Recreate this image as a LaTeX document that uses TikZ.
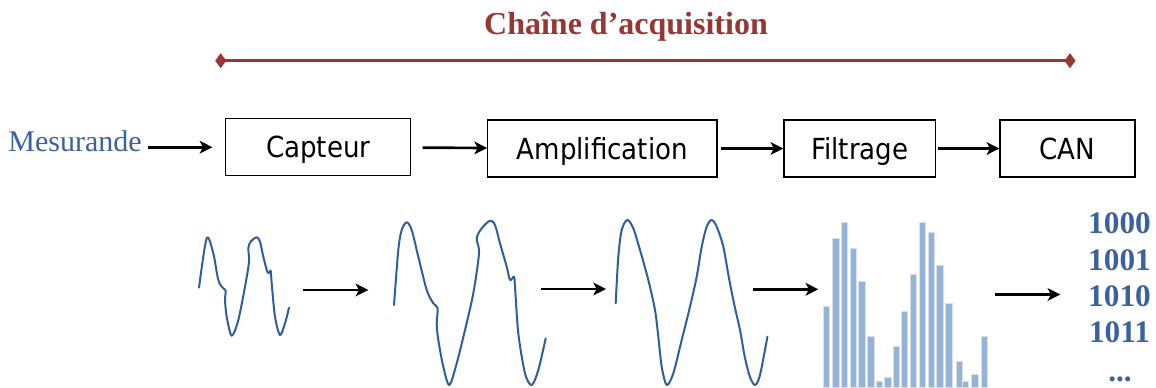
\documentclass[tikz,border=0pt]{standalone}
\usepackage{fontspec}
\setmainfont{Liberation Serif}
\newfontfamily\blocfont{DejaVu Sans Condensed}
\usetikzlibrary{arrows.meta}
\definecolor{caRouge}{HTML}{953735}
\definecolor{caBleu}{HTML}{3A62A0}
\definecolor{caOnde}{HTML}{2F5E9C}
\definecolor{caBarre}{HTML}{95B3D7}
\tikzset{
  bloc/.style   ={draw=black,line width=1pt,minimum height=42.75pt,inner sep=0pt,
                  font=\blocfont\fontsize{21.75}{26}\selectfont,
                  text height=15.9pt,text depth=0pt},
  flow/.style   ={-{Stealth[length=9.5pt,width=9.5pt,inset=2.5pt]},black,line width=2pt},
  portee/.style ={{Diamond[length=8.25pt,width=11.25pt]}-{Diamond[length=8.25pt,width=11.25pt]},
                  caRouge,line width=2.2pt},
  onde/.style   ={caOnde,line width=1.5pt,line join=round,line cap=round},
  barre/.style  ={fill=caBarre,draw=white!60!caBarre,line width=0.4pt},
  bits/.style   ={font=\bfseries\fontsize{23.5}{27}\selectfont,text=caBleu,
                  inner sep=0pt,anchor=base},
}
\begin{document}
\begin{tikzpicture}[x=0.75pt,y=-0.75pt]
\useasboundingbox (0,0) rectangle (1156,387);
% titre et portee de la chaine
\node[font=\bfseries\fontsize{24}{28}\selectfont,text=caRouge,anchor=base] (titre)
  at (626,34.3) {Chaîne d’acquisition};
\coordinate (debut) at (215.2,60.7);
\coordinate (fin) at (1075.5,60.7);
\draw[portee] (debut) -- (fin);
% blocs
\node[bloc,minimum width=138.75pt] (capteur) at (318.2,147.2) {Capteur};
\node[bloc,minimum width=172pt] (ampli) at (602.4,148.5) {Amplification};
\node[bloc,minimum width=113.8pt] (filtre) at (859.8,148.5) {Filtrage};
\node[bloc,minimum width=101.25pt] (can) at (1067.5,148.5) {CAN};
\node[font=\fontsize{22.5}{26}\selectfont,text=caBleu,inner sep=0pt,anchor=base east]
  (mesurande) at (142,151.7) {Mesurande};
\draw[flow,shorten <=4.5pt,shorten >=9.5pt] (mesurande.east |- capteur.west) -- (capteur.west);
\draw[flow,shorten <=8.5pt] (capteur) -- (ampli);
\draw[flow,shorten <=2.8pt] (ampli) -- (filtre);
\draw[flow,shorten <=1pt] (filtre) -- (can);
% signaux
\draw[onde] plot[smooth,tension=0.5] coordinates {
  (199,287.7) (206.7,238.3) (213.3,253.3) (218.3,280) (223.3,288.3) (225.7,290.7)
  (225,300) (226.7,316.7) (231.7,335.7) (238.3,320) (245,286.7) (249,261.7)
  (248.3,248.3) (250.7,241.7) (256.7,237.3) (260,241.7) (263.3,256.7) (267.3,271.7)
  (269.3,272.7) (270.7,270.7) (271.7,283.3) (275,316.7) (280,335) (285,323.3) (289,307.7)};
\draw[onde] plot[smooth,tension=0.5] coordinates {
  (394,305) (398.3,250) (401.7,230) (406.7,222.3) (411.7,230) (418.3,256.7)
  (426.7,290) (433.3,303.3) (437.7,308.3) (436.7,323.3) (438.3,340) (443.3,366.7)
  (449.3,385) (456.7,363.3) (465,330) (473.3,293.3) (479,253.3) (476.7,238.3)
  (481.7,228.3) (490,220.7) (495,225) (500,243.3) (506.7,266.7) (510,280)
  (514,276.7) (515,286.7) (518.3,333.3) (525,373.3) (531.7,385) (538.3,370) (545.7,338.3)};
\draw[onde] plot[smooth,tension=0.5] coordinates {
  (615.7,303.3) (618.3,256.7) (621.7,230) (627.3,220) (633.3,228.3) (640,250)
  (648.3,280) (655,310) (658.3,336.7) (661.7,366.7) (666.7,385) (673.3,373.3)
  (681.7,340) (690,306.7) (696.7,276.7) (701.7,246.7) (706.7,226.7) (711.7,220)
  (716.7,226.7) (723.3,246.7) (729.3,280) (735,308) (740,330) (745,358) (750,377)
  (755,385) (760,375) (767.4,336.7)};
\foreach \x/\h in {823.3/306.3, 832.7/238.3, 841.3/222.3, 850/248, 858.7/281,
  867.7/336, 876.3/381, 884.7/377, 893/346.3, 901.3/311.3, 910.3/274, 919.3/222.3,
  928/232.3, 936.7/265, 945.7/303.3, 956/361, 962/381, 971.7/374, 981/336}
  \draw[barre] (\x,387) rectangle (\x+6.3,\h);
\foreach \v/\y in {1000/233, 1001/270, 1010/306.7, 1011/342.7}
  \node[bits] (b\v) at (1119.5,\y) {\v};
\node[bits] (suite) at (1120,381) {...};
% fleches entre signaux
\coordinate (brutD) at (302.7,290);   \coordinate (ampG) at (368.3,290);
\coordinate (ampD) at (540.7,289);    \coordinate (filG) at (606,289);
\coordinate (filD) at (753.3,289.3);  \coordinate (echG) at (818.3,289.3);
\coordinate (echD) at (994.5,294.5);  \coordinate (numG) at (1060.3,294.5);
\draw[flow] (brutD) -- (ampG);
\draw[flow] (ampD) -- (filG);
\draw[flow] (filD) -- (echG);
\draw[flow] (echD) -- (numG);
\end{tikzpicture}
\end{document}
